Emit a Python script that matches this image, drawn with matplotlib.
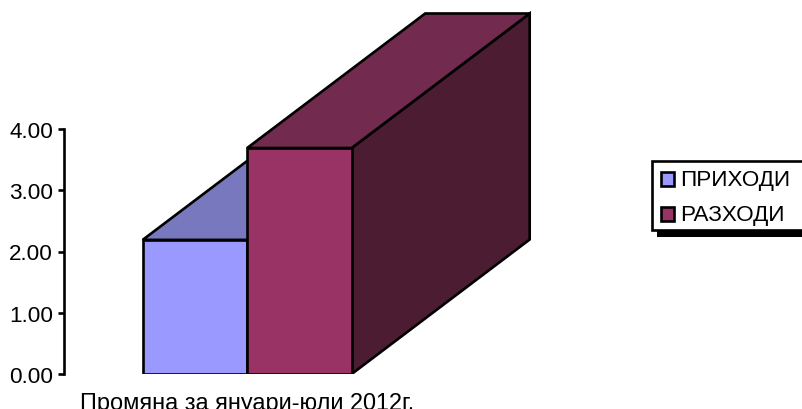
# -*- coding: utf-8 -*-

import matplotlib
matplotlib.use("Agg")
import matplotlib.pyplot as plt
from matplotlib.patches import Polygon, Rectangle

W, H = 803, 410

category = "Промяна за януари-юли 2012г."
series = ["ПРИХОДИ", "РАЗХОДИ"]
values = [2.19, 3.69]
yticks = [0, 1, 2, 3, 4]

front = ["#9999FF", "#993366"]
top = ["#7878BF", "#722A4E"]
side = ["#4C1C33", "#4C1C33"]

plt.rcParams['font.family'] = ['Liberation Sans', 'DejaVu Sans']
FS = 16.2
LW = 1.9

fig = plt.figure(figsize=(W / 100, H / 100), dpi=100)

# main axes: left edge on the y axis line, runs up to the top of the image
ax = fig.add_axes([64.5 / W, (H - 375) / H, (W - 64.5) / W, 375 / H])
px_x = 104.5
px_y = 61.25
left = -(142.7 - 64.5) / px_x
ax.set_xlim(left, left + (W - 64.5) / px_x)
ax.set_ylim(0, 375 / px_y)

# depth of the fake 3d bars, in data units
dx = 178 / px_x
dy = 134.5 / px_y


def bar3d(i, v, z):
    x0, x1 = i, i + 1
    ax.add_patch(Polygon([(x1, 0), (x1 + dx, dy), (x1 + dx, v + dy), (x1, v)],
                         fc=side[i], ec="black", lw=LW, joinstyle="miter", zorder=z))
    ax.add_patch(Polygon([(x0, v), (x1, v), (x1 + dx, v + dy), (x0 + dx, v + dy)],
                         fc=top[i], ec="black", lw=LW, joinstyle="miter", zorder=z))
    ax.add_patch(Rectangle((x0, 0), 1, v, fc=front[i], ec="black", lw=LW,
                           joinstyle="miter", zorder=z + 0.5))


for i, v in enumerate(values):
    bar3d(i, v, 2 + i)

for s in ["top", "right", "bottom"]:
    ax.spines[s].set_visible(False)
ax.spines["left"].set_bounds(0, 4)
ax.spines["left"].set_linewidth(LW)
ax.set_yticks(yticks)
ax.set_yticklabels(["%.2f" % t for t in yticks], fontsize=FS)
ax.tick_params(axis="y", length=4.5, width=LW, pad=3.7)
ax.set_xticks([1])
# the reference cuts this label off at the bottom edge too
ax.set_xticklabels([category], fontsize=16.9)
ax.tick_params(axis="x", length=0, pad=12)

# legend box, drawn on a pixel overlay since it runs off the right edge
lg = fig.add_axes([0, 0, 1, 1])
lg.set_xlim(0, W)
lg.set_ylim(H, 0)
lg.axis("off")
lg.add_patch(Rectangle((657, 170), 160, 68, fc="black", ec="none", zorder=1))
lg.add_patch(Rectangle((652, 162), 160, 69, fc="white", ec="black", lw=LW, zorder=2))
ypos = [179.5, 214.5]
for name, c, y in zip(series, front, ypos):
    lg.add_patch(Rectangle((661, y - 7), 13, 14, fc=c, ec="black", lw=LW, zorder=3))
    lg.text(680, y + 1, name, fontsize=FS, va="center", ha="left", zorder=3)

fig.savefig("out.png", dpi=100)
